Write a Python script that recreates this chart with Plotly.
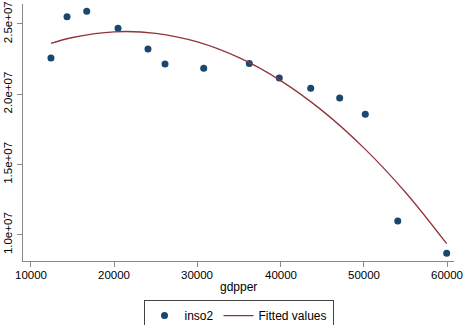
import plotly.graph_objects as go

gdpper = [12400, 14330, 16700, 20460, 24060, 26110, 30760, 36240, 39840, 43620, 47100, 50180, 54080, 59960]
inso2 = [2.258e7, 2.552e7, 2.590e7, 2.469e7, 2.322e7, 2.2155e7, 2.185e7, 2.218e7, 2.116e7, 2.043e7, 1.974e7, 1.858e7, 1.099e7, 0.869e7]

fit_x = [12400, 15000, 20000, 25000, 30000, 35000, 40000, 45000, 50000, 55000, 59960]
fit_y = [2.3627e7, 2.4038e7, 2.4442e7, 2.4336e7, 2.3724e7, 2.2603e7, 2.0974e7, 1.8837e7, 1.6191e7, 1.3036e7, 0.9374e7]

x_ticks = [10000, 20000, 30000, 40000, 50000, 60000]
x_ticktext = ["10000", "20000", "30000", "40000", "50000", "60000"]
y_ticks = [1.0e7, 1.5e7, 2.0e7, 2.5e7]
y_ticktext = ["1.0e+07", "1.5e+07", "2.0e+07", "2.5e+07"]

fig = go.Figure()
fig.add_trace(go.Scatter(x=gdpper, y=inso2, mode="markers", name="inso2",
                         marker=dict(color="#1a476f", size=7)))
fig.add_trace(go.Scatter(x=fit_x, y=fit_y, mode="lines", name="Fitted values",
                         line=dict(color="#90353b", width=1.3, shape="spline")))

annotations = [dict(text=t, x=v, y=-0.0564, xref="x", yref="paper",
                    xanchor="center", yanchor="middle", showarrow=False,
                    font=dict(size=11.5))
               for v, t in zip(x_ticks, x_ticktext)]
annotations.append(dict(text="gdpper", x=0.5, y=-0.101, xref="paper", yref="paper",
                        xanchor="center", yanchor="middle", showarrow=False,
                        font=dict(size=12)))

font = dict(family="Liberation Sans, Arial, sans-serif", size=12, color="#000000")
fig.update_layout(
    width=465, height=325,
    margin=dict(l=23, r=11, t=4, b=64, autoexpand=False),
    paper_bgcolor="white", plot_bgcolor="white",
    font=font,
    showlegend=True,
    legend=dict(orientation="h", x=0.5, xanchor="center", y=-0.152, yanchor="top",
                bordercolor="#444444", borderwidth=1, font=dict(size=12),
                itemwidth=30, tracegroupgap=0),
    annotations=annotations,
)
fig.update_xaxes(range=[9040, 60840], tickvals=x_ticks, showticklabels=False,
                 showgrid=False, zeroline=False, automargin=False,
                 showline=True, linecolor="#888888", linewidth=1.2,
                 ticks="outside", ticklen=5, tickcolor="#888888")
fig.update_yaxes(range=[8.144e6, 2.642e7], tickvals=y_ticks, ticktext=y_ticktext,
                 tickangle=-90, showgrid=False, zeroline=False, automargin=False,
                 ticklabeloverflow="allow",
                 showline=True, linecolor="#888888", linewidth=1.2,
                 ticks="outside", ticklen=5, tickcolor="#888888",
                 tickfont=dict(size=11.5))
fig.write_html("out.html", config={"displayModeBar": False},
               post_script="document.body.style.margin='0';document.body.style.overflow='hidden';")
